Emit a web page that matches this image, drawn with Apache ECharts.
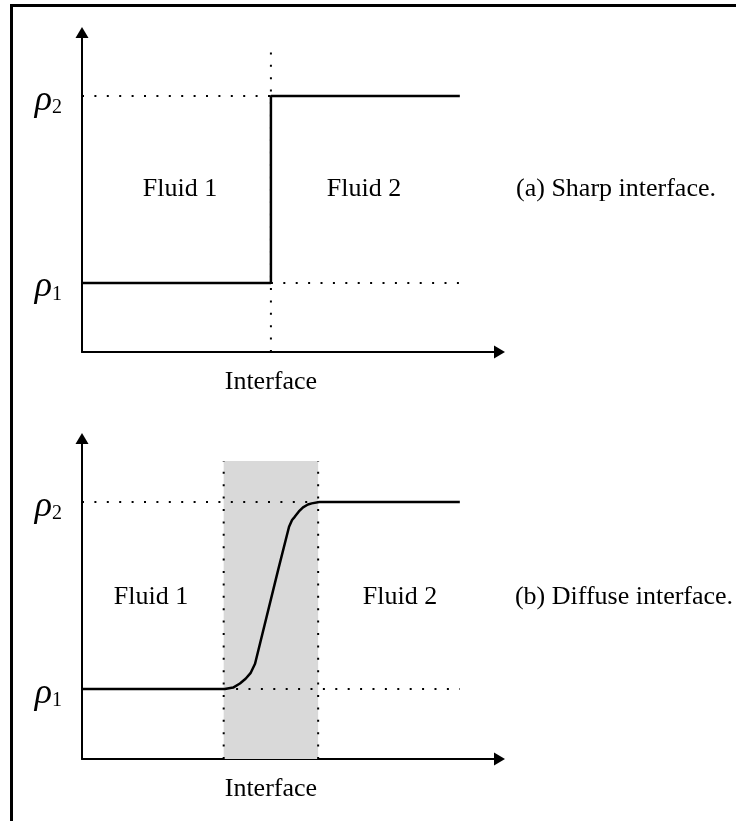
<!DOCTYPE html>
<html>
<head>
<meta charset="utf-8">
<script src="https://cdn.jsdelivr.net/npm/echarts@6/dist/echarts.min.js"></script>
<style>html,body{margin:0;padding:0;background:#fff}#c{width:736px;height:821px}</style>
</head>
<body>
<div id="c"></div>
<script>
// ---- data ----
const rho1 = 1, rho2 = 2;
const interfaceX = 5;             // sharp interface position
const xLeft = 0, xEnd = 10;       // extent of the profile
const xAxisMin = 0, xAxisMax = 11.05;
const yMinA = 0.631, yMaxA = 2.34;
const yMinB = 0.626, yMaxB = 2.34;
const diffuseStart = 3.75, diffuseEnd = 6.25;
const dottedTopA = 2.25, shadeTopB = 2.22;
// sharp profile
const sharpX = [0, 5, 5, 10];
const sharpY = [1, 1, 2, 2];
// diffuse profile
const curveX = [0, 3.78, 4.0, 4.18, 4.33, 4.46, 4.58, 5.19, 5.48, 5.56, 5.63, 5.74, 5.85, 5.98, 6.08, 6.28, 10];
const curveY = [1, 1.0, 1.008, 1.03, 1.055, 1.085, 1.135, 1.636, 1.868, 1.904, 1.921, 1.95, 1.972, 1.987, 1.993, 2.0, 2];
// tick labels
const yTickValues = [1, 2];
const yTickLabels = ['{r|ρ}{s|1}', '{r|ρ}{s|2}'];
const xTickValues = [5];
const xTickLabels = ['Interface'];
const fluidLabels = ['Fluid 1', 'Fluid 2'];
const captions = ['(a) Sharp interface.', '(b) Diffuse interface.'];

// ---- chart ----
const FONT = '"Liberation Serif","Times New Roman",serif';
const zip = (xs, ys) => xs.map((x, i) => [x, ys[i]]);
const dotted = {color: '#000', width: 2, type: [2, 10.4]};

function xAxisCfg(gi) {
  return {
    type: 'value', gridIndex: gi, min: xAxisMin, max: xAxisMax,
    splitLine: {show: false}, axisTick: {show: false},
    axisLine: {show: true, symbol: ['none', 'triangle'], symbolSize: [13, 11],
      lineStyle: {color: '#000', width: 2}},
    axisLabel: {show: true, customValues: xTickValues, margin: 17,
      formatter: v => xTickLabels[xTickValues.indexOf(v)] || '',
      color: '#000', fontSize: 26, fontFamily: FONT}
  };
}
function yAxisCfg(gi, mn, mx) {
  return {
    type: 'value', gridIndex: gi, min: mn, max: mx,
    splitLine: {show: false}, axisTick: {show: false},
    axisLine: {show: true, symbol: ['none', 'triangle'], symbolSize: [13, 11],
      lineStyle: {color: '#000', width: 2}},
    axisLabel: {show: true, customValues: yTickValues, margin: 20,
      formatter: v => yTickLabels[yTickValues.indexOf(v)] || '',
      rich: {
        r: {fontSize: 36, fontStyle: 'italic', fontFamily: FONT, color: '#000', lineHeight: 44, verticalAlign: 'bottom'},
        s: {fontSize: 20, fontFamily: FONT, color: '#000', lineHeight: 18, verticalAlign: 'bottom'}
      }}
  };
}
function lineSeries(gi, data, style, z) {
  return {type: 'line', xAxisIndex: gi, yAxisIndex: gi, data: data, symbol: 'none',
    lineStyle: style, silent: true, animation: false, z: z || 2};
}
const solid = {color: '#000', width: 2.5};

const chart = echarts.init(document.getElementById('c'), null, {renderer: 'canvas'});
const option = {
  animation: false,
  grid: [
    {left: 82, top: 32.5, width: 417.5, height: 319.5},
    {left: 82, top: 438.5, width: 417.5, height: 320.5}
  ],
  xAxis: [xAxisCfg(0), xAxisCfg(1)],
  yAxis: [yAxisCfg(0, yMinA, yMaxA), yAxisCfg(1, yMinB, yMaxB)],
  series: [
    // panel (a)
    lineSeries(0, [[xLeft, rho2], [interfaceX, rho2]], dotted),
    lineSeries(0, [[interfaceX, rho1], [xEnd, rho1]], dotted),
    lineSeries(0, [[interfaceX, yMinA], [interfaceX, dottedTopA]], dotted),
    lineSeries(0, zip(sharpX, sharpY), solid, 5),
    // panel (b)
    Object.assign(lineSeries(1, [[diffuseStart, yMinB], [diffuseStart, shadeTopB]], dotted), {
      markArea: {silent: true, itemStyle: {color: '#d9d9d9'},
        data: [[{coord: [diffuseStart, yMinB]}, {coord: [diffuseEnd, shadeTopB]}]]}
    }),
    lineSeries(1, [[diffuseEnd, yMinB], [diffuseEnd, shadeTopB]], dotted),
    lineSeries(1, [[xLeft, rho2], [diffuseEnd + 0.7, rho2]], dotted),
    lineSeries(1, [[diffuseStart, rho1], [xEnd, rho1]], dotted),
    lineSeries(1, zip(curveX, curveY), solid, 5)
  ],
  graphic: [
    {type: 'rect', shape: {x: 10, y: 4, width: 3, height: 817}, style: {fill: '#000'}},
    {type: 'rect', shape: {x: 10, y: 4, width: 726, height: 3}, style: {fill: '#000'}},
    {type: 'text', x: 180, y: 189, style: {text: fluidLabels[0], fill: '#000', fontSize: 26, fontFamily: FONT, align: 'center', verticalAlign: 'middle'}},
    {type: 'text', x: 364, y: 189, style: {text: fluidLabels[1], fill: '#000', fontSize: 26, fontFamily: FONT, align: 'center', verticalAlign: 'middle'}},
    {type: 'text', x: 616, y: 189, style: {text: captions[0], fill: '#000', fontSize: 26, fontFamily: FONT, align: 'center', verticalAlign: 'middle'}},
    {type: 'text', x: 151, y: 597, style: {text: fluidLabels[0], fill: '#000', fontSize: 26, fontFamily: FONT, align: 'center', verticalAlign: 'middle'}},
    {type: 'text', x: 400, y: 597, style: {text: fluidLabels[1], fill: '#000', fontSize: 26, fontFamily: FONT, align: 'center', verticalAlign: 'middle'}},
    {type: 'text', x: 624, y: 597, style: {text: captions[1], fill: '#000', fontSize: 26, fontFamily: FONT, align: 'center', verticalAlign: 'middle'}}
  ]
};
chart.setOption(option);
</script>
</body>
</html>
